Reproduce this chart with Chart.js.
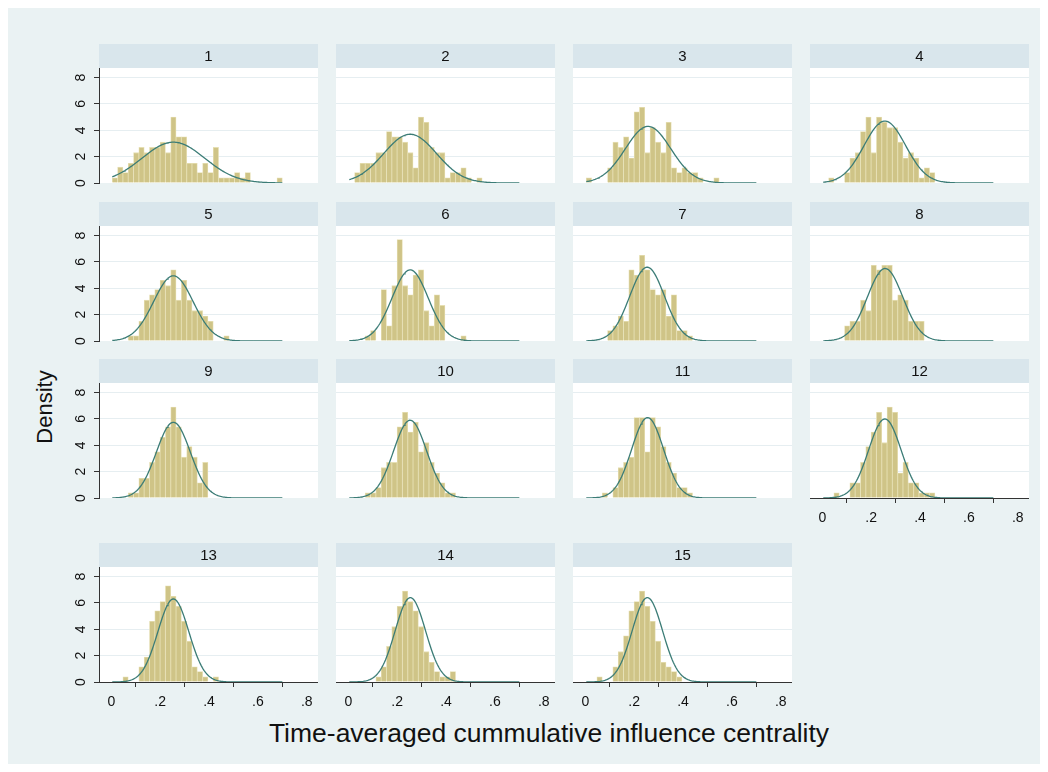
<!DOCTYPE html>
<html>
<head>
<meta charset="utf-8">
<title>Influence centrality by period</title>
<script src="https://cdn.jsdelivr.net/npm/chart.js@4.4.1/dist/chart.umd.min.js"></script>
<style>
  body { margin: 0; background: #ffffff; font-family: "Liberation Sans", Arial, sans-serif; }
  #graph { position: absolute; left: 8px; top: 8px; width: 1032px; height: 756px; background: #eaf2f3; }
  .panel { position: absolute; }
  .title { position: absolute; white-space: nowrap; color: #111; }
</style>
</head>
<body>
<div id="graph"></div>
<div id="panels"></div>
<div class="title" id="ytitle" style="left:45px; top:407px; font-size:22px; transform: translate(-50%,-50%) rotate(-90deg);">Density</div>
<div class="title" id="xtitle" style="left:549px; top:733px; font-size:26.5px; transform: translate(-50%,-50%);">Time-averaged cummulative influence centrality</div>

<script>
// histogram bins (shared by every period)
const binStart = 0.004;
const binWidth = 0.02175;
const curveFrom = 0.004;
const curveTo = 0.700;

const panelLabels = ['1', '2', '3', '4', '5', '6', '7', '8', '9', '10', '11', '12', '13', '14', '15'];

// density per bin, 32 bins each
const hist1  = [0.4, 1.2, 0.8, 1.5, 2.3, 2.7, 2.3, 2.7, 2.7, 3.1, 2.3, 5.0, 3.5, 3.5, 1.5, 1.5, 0.8, 1.5, 0.8, 2.7, 0.4, 0.4, 0.4, 0.8, 0.4, 0.8, 0, 0, 0, 0, 0, 0.4];
const hist2  = [0, 0.8, 1.5, 1.5, 1.5, 2.3, 2.3, 3.9, 3.5, 3.5, 3.1, 2.3, 1.15, 5.0, 4.6, 2.7, 2.3, 2.3, 0.4, 0.8, 0.8, 1.15, 0.4, 0, 0.4, 0, 0, 0, 0, 0, 0, 0];
const hist3  = [0.4, 0, 0, 0, 1.15, 3.1, 2.7, 3.5, 1.9, 5.4, 5.75, 2.3, 4.2, 3.1, 2.3, 4.6, 1.15, 0.8, 1.15, 0.8, 0.8, 0.4, 0, 0, 0.4, 0, 0, 0, 0, 0, 0, 0];
const hist4  = [0, 0.4, 0, 0, 0.8, 1.9, 2.3, 3.9, 5.0, 2.3, 5.0, 4.6, 4.2, 4.2, 3.1, 1.9, 2.3, 1.9, 0.4, 1.15, 0.8, 0, 0, 0, 0, 0, 0, 0, 0, 0, 0, 0];
const hist5  = [0, 0, 0, 0.4, 0.4, 1.5, 3.1, 3.5, 3.9, 4.6, 4.2, 5.4, 3.1, 4.6, 3.1, 2.3, 2.3, 1.9, 1.5, 0, 0, 0.4, 0, 0, 0, 0, 0, 0, 0, 0, 0, 0];
const hist6  = [0, 0, 0, 0.4, 0.8, 0, 3.9, 1.15, 4.2, 7.7, 4.2, 3.5, 5.0, 5.4, 2.3, 1.15, 3.5, 2.7, 0, 0, 0, 0.4, 0, 0, 0, 0, 0, 0, 0, 0, 0, 0];
const hist7  = [0, 0, 0, 0, 0.8, 1.15, 1.9, 1.5, 5.4, 5.0, 6.5, 5.4, 3.9, 3.5, 3.9, 1.9, 3.5, 0.8, 0.8, 0.4, 0, 0, 0, 0, 0, 0, 0, 0, 0, 0, 0, 0];
const hist8  = [0, 0, 0, 0, 1.15, 1.5, 1.5, 3.1, 2.3, 5.75, 5.4, 5.75, 5.75, 3.1, 3.5, 3.1, 1.5, 1.5, 1.5, 0, 0, 0, 0, 0, 0, 0, 0, 0, 0, 0, 0, 0];
const hist9  = [0, 0, 0, 0.4, 0.4, 1.5, 1.5, 2.7, 3.5, 4.6, 5.4, 6.9, 5.4, 3.1, 3.9, 3.1, 1.15, 2.7, 0, 0, 0, 0, 0, 0, 0, 0, 0, 0, 0, 0, 0, 0];
const hist10 = [0, 0, 0, 0.4, 0.4, 0.8, 2.3, 2.7, 2.7, 5.4, 6.5, 5.0, 5.75, 3.5, 4.2, 2.7, 1.9, 1.15, 0.4, 0.4, 0, 0, 0, 0, 0, 0, 0, 0, 0, 0, 0, 0];
const hist11 = [0, 0, 0, 0.4, 0, 0.8, 2.3, 2.7, 3.1, 6.1, 6.1, 3.5, 6.1, 5.4, 3.9, 2.7, 1.9, 0.8, 0.8, 0.4, 0, 0, 0, 0, 0, 0, 0, 0, 0, 0, 0, 0];
const hist12 = [0, 0, 0.4, 0, 0, 1.15, 1.15, 2.7, 3.9, 5.0, 6.5, 4.2, 6.9, 6.5, 1.9, 2.7, 1.15, 1.15, 0.4, 0.4, 0.4, 0, 0, 0, 0, 0, 0, 0, 0, 0, 0, 0];
const hist13 = [0, 0, 0.4, 0, 0, 1.15, 1.9, 4.6, 5.4, 6.1, 7.3, 6.5, 5.75, 4.6, 3.1, 1.15, 0.8, 0.4, 0, 0.4, 0, 0, 0, 0, 0, 0, 0, 0, 0, 0, 0, 0];
const hist14 = [0, 0, 0, 0, 0, 0.4, 1.15, 2.7, 4.2, 5.75, 6.9, 6.1, 5.4, 4.2, 2.3, 1.5, 0.8, 0.4, 0.4, 0.8, 0, 0, 0, 0, 0, 0, 0, 0, 0, 0, 0, 0];
const hist15 = [0, 0, 0.4, 0, 0, 1.15, 2.3, 3.5, 5.4, 6.1, 6.9, 5.75, 4.6, 3.1, 1.5, 1.15, 0.8, 0.4, 0, 0, 0, 0, 0, 0, 0, 0, 0, 0, 0, 0, 0, 0];

const histograms = [hist1, hist2, hist3, hist4, hist5, hist6, hist7, hist8, hist9, hist10, hist11, hist12, hist13, hist14, hist15];

// normal overlay parameters per period
const normalMean = [0.254, 0.253, 0.257, 0.256, 0.254, 0.253, 0.253, 0.257, 0.254, 0.253, 0.255, 0.256, 0.254, 0.254, 0.254];
const normalSd   = [0.1287, 0.1078, 0.0928, 0.0849, 0.0806, 0.0739, 0.0712, 0.0725, 0.0694, 0.0676, 0.0654, 0.0665, 0.0633, 0.0623, 0.0623];

const yTicks = [0, 2, 4, 6, 8];
const xTicks = [0, 0.2, 0.4, 0.6, 0.8];
const yMax = 8.73;
const xMin = -0.0504;
const xMax = 0.846;

// layout
const colLeft = [99, 336, 573, 810];
const rowTop = [44, 202, 359, 543];
const stripH = 24;
const plotW = 219;
const plotH = 115;
const yAxisW = 30;
const xAxisH = 34;
const spareBottom = 8;   // room for the rotated "0" when a panel has no x axis
const fontFamily = '"Liberation Sans", Arial, sans-serif';

function normalPdf(x, m, s) {
  const z = (x - m) / s;
  return Math.exp(-0.5 * z * z) / (s * Math.sqrt(2 * Math.PI));
}

const stripPlugin = {
  id: 'strip',
  beforeDraw(chart, args, opts) {
    const { ctx, chartArea: a } = chart;
    ctx.save();
    ctx.fillStyle = '#ffffff';
    ctx.fillRect(a.left, a.top, a.right - a.left, a.bottom - a.top);
    ctx.fillStyle = '#d9e6ec';
    ctx.fillRect(a.left, a.top - stripH, a.right - a.left, stripH);
    ctx.fillStyle = '#111';
    ctx.font = '15px ' + fontFamily;
    ctx.textAlign = 'center';
    ctx.textBaseline = 'middle';
    ctx.fillText(opts.label, (a.left + a.right) / 2, a.top - stripH / 2 + 1);
    ctx.restore();
  }
};

const holder = document.getElementById('panels');

histograms.forEach(function (hist, i) {
  const row = Math.floor(i / 4);
  const col = i % 4;
  const hasY = col === 0;
  const hasX = i >= 11;
  const padBottom = hasX ? 0 : spareBottom;

  const left = colLeft[col] - (hasY ? yAxisW : 0);
  const width = plotW + (hasY ? yAxisW : 0);
  const height = stripH + plotH + (hasX ? xAxisH : 0) + padBottom;

  const canvas = document.createElement('canvas');
  canvas.className = 'panel';
  canvas.width = width;
  canvas.height = height;
  canvas.style.left = left + 'px';
  canvas.style.top = rowTop[row] + 'px';
  holder.appendChild(canvas);

  const bars = hist.map(function (d, k) {
    return { x: binStart + (k + 0.5) * binWidth, y: d };
  });

  const curve = [];
  for (let x = curveFrom; x <= curveTo + 1e-9; x += 0.004) {
    curve.push({ x: x, y: normalPdf(x, normalMean[i], normalSd[i]) });
  }

  new Chart(canvas, {
    type: 'bar',
    data: {
      datasets: [
        {
          type: 'line',
          data: curve,
          borderColor: '#3b7c76',
          borderWidth: 1.3,
          pointRadius: 0,
          tension: 0,
          order: 0
        },
        {
          type: 'bar',
          data: bars,
          backgroundColor: '#cfc487',
          borderColor: '#e6dfb3',
          borderWidth: 0.8,
          barPercentage: 1,
          categoryPercentage: 1,
          order: 1
        }
      ]
    },
    options: {
      responsive: false,
      animation: false,
      devicePixelRatio: 1,
      layout: { padding: { top: stripH, left: 0, right: 0, bottom: padBottom } },
      plugins: {
        legend: { display: false },
        tooltip: { enabled: false },
        strip: { label: panelLabels[i] }
      },
      scales: {
        x: {
          type: 'linear',
          offset: false,
          min: xMin,
          max: xMax,
          display: hasX,
          afterBuildTicks: function (s) { s.ticks = xTicks.map(function (v) { return { value: v }; }); },
          afterFit: function (s) {
            s.height = hasX ? xAxisH : 0;
            s.paddingLeft = 0;
            s.paddingRight = 0;
          },
          grid: { drawOnChartArea: false, drawTicks: true, tickLength: 5, tickColor: '#333' },
          border: { display: true, color: '#333', width: 1 },
          ticks: {
            color: '#111',
            font: { size: 14, family: fontFamily },
            maxRotation: 0,
            minRotation: 0,
            autoSkip: false,
            padding: 7,
            callback: function (v) { return v === 0 ? '0' : String(v).replace(/^0/, ''); }
          }
        },
        y: {
          min: 0,
          max: yMax,
          afterBuildTicks: function (s) { s.ticks = yTicks.map(function (v) { return { value: v }; }); },
          afterFit: function (s) {
            s.width = hasY ? yAxisW : 0;
            s.paddingTop = 0;
            s.paddingBottom = 0;
          },
          grid: {
            color: function (c) { return c.tick && c.tick.value === 0 ? 'rgba(0,0,0,0)' : '#e6eef1'; },
            lineWidth: 1,
            drawTicks: hasY,
            tickLength: 5,
            tickColor: '#333'
          },
          border: { display: hasY, color: '#333', width: 1 },
          ticks: {
            display: hasY,
            color: '#111',
            font: { size: 14, family: fontFamily },
            minRotation: 90,
            maxRotation: 90,
            crossAlign: 'center',
            padding: 9
          }
        }
      }
    },
    plugins: [stripPlugin]
  });
});
</script>
</body>
</html>
